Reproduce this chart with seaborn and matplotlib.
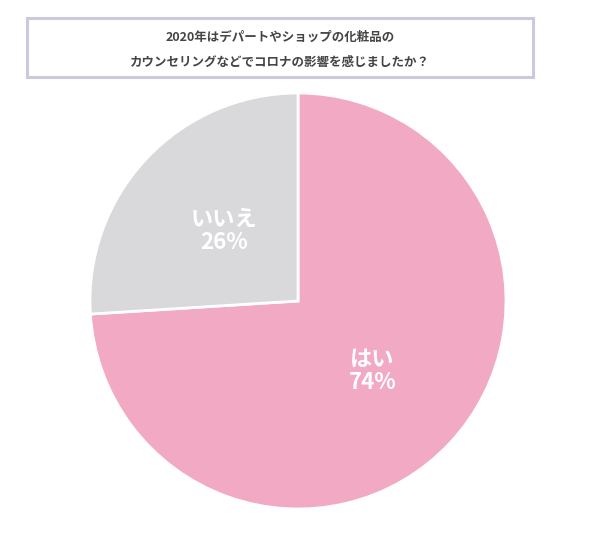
import matplotlib
matplotlib.use("Agg")
import matplotlib.pyplot as plt
from matplotlib.patches import Rectangle
import seaborn as sns

# Data
labels = ["はい", "いいえ"]
values = [74, 26]
colors = ["#f2a9c4", "#d9d9db"]
title_lines = ["2020年はデパートやショップの化粧品の",
               "カウンセリングなどでコロナの影響を感じましたか？"]

sns.set_theme(style="white")
plt.rcParams['font.family'] = ['Noto Sans CJK JP', 'DejaVu Sans']

W, H = 600, 543
fig = plt.figure(figsize=(W / 100, H / 100), dpi=100)
fig.patch.set_facecolor("white")

# Pie axes: center (298, 301) px, radius 208 px
cx, cy, r = 298, 301, 208
ax = fig.add_axes([(cx - r) / W, (H - cy - r) / H, 2 * r / W, 2 * r / H])
wedges, texts = ax.pie(values, colors=colors, startangle=90, counterclock=False,
                       wedgeprops=dict(edgecolor="white", linewidth=2),
                       labels=[f"{l}\n{v}%" for l, v in zip(labels, values)],
                       labeldistance=0.49,
                       textprops=dict(color="white", fontsize=16, fontweight="bold",
                                      ha="center", va="center", linespacing=1.0))
for t in texts:
    t.set_horizontalalignment("center")
ax.set_xlim(-1, 1)
ax.set_ylim(-1, 1)
ax.set_aspect("equal")
ax.axis("off")

# Title box
bx0, by0, bx1, by1 = 27, 18, 533, 77
fig.patches.append(Rectangle((bx0 / W, 1 - by1 / H), (bx1 - bx0) / W, (by1 - by0) / H,
                             transform=fig.transFigure, facecolor="white",
                             edgecolor="#cbc9dd", linewidth=2.2))
fig.text(280 / W, 1 - 37 / H, title_lines[0], ha="center", va="center",
         fontsize=9, fontweight="bold", color="#444444")
fig.text(280 / W, 1 - 62 / H, title_lines[1], ha="center", va="center",
         fontsize=9, fontweight="bold", color="#444444")

fig.savefig("out.png", dpi=100)
